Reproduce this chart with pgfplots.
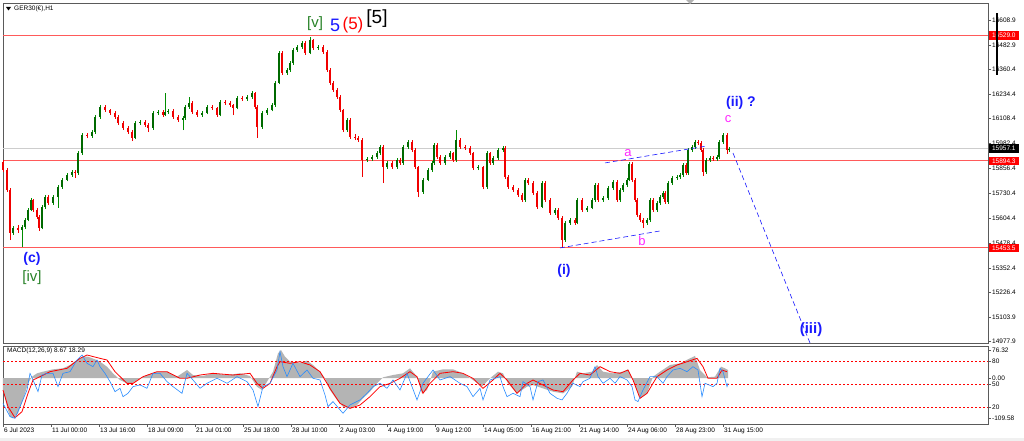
\documentclass[border=0pt]{standalone}
\usepackage{fontspec}
\setmainfont{Liberation Sans}
\usepackage{pgfplots}
\pgfplotsset{compat=1.18}
\usepackage{pgfplotstable}
\definecolor{upc}{RGB}{0,140,0}
\definecolor{dnc}{RGB}{240,0,0}
\definecolor{hline}{RGB}{255,90,90}
\definecolor{frm}{RGB}{90,90,90}
\definecolor{wblue}{RGB}{25,25,255}
\definecolor{wgreen}{RGB}{40,130,40}
\definecolor{wmag}{RGB}{255,40,255}
\definecolor{mblue}{RGB}{40,140,255}
\definecolor{hgray}{RGB}{180,180,180}
\definecolor{bidgray}{RGB}{205,205,205}
\newcommand\tf{\fontsize{6.5}{7.5}\selectfont}

\pgfplotstableread{
x o h l c
3 15890 15900 15838 15848
7 15848 15856 15739 15747
10 15747 15755 15493 15529
13 15529 15565 15520 15554
18 15554 15570 15530 15544
22 15544 15570 15458 15559
25 15559 15605 15550 15595
28 15595 15655 15588 15645
31 15645 15706 15638 15696
33 15696 15703 15637 15645
37 15645 15653 15600 15610
39 15610 15618 15540 15554
42 15554 15670 15547 15661
45 15661 15722 15652 15711
48 15711 15720 15672 15681
53 15681 15720 15672 15711
58 15711 15772 15656 15762
62 15762 15808 15754 15798
67 15798 15832 15790 15823
72 15823 15848 15815 15838
75 15838 15846 15808 15833
78 15833 15944 15825 15934
82 15934 16036 15926 16026
87 16026 16034 16010 16021
92 16021 16050 16012 16041
95 16041 16127 16033 16117
100 16117 16178 16108 16168
105 16168 16176 16144 16152
110 16152 16160 16128 16137
115 16137 16145 16108 16117
118 16117 16125 16078 16087
123 16087 16095 16052 16061
128 16061 16070 16032 16041
132 16041 16050 15995 16011
135 16011 16096 16003 16087
140 16087 16101 16078 16092
145 16092 16100 16068 16077
148 16077 16085 16040 16061
153 16061 16146 16053 16137
158 16137 16151 16128 16142
163 16142 16150 16118 16127
165 16127 16239 16120 16142
168 16142 16155 16134 16147
173 16147 16155 16108 16117
178 16117 16125 16092 16102
183 16102 16120 16051 16112
185 16112 16176 16104 16168
189 16168 16219 16160 16188
192 16188 16196 16133 16142
197 16142 16150 16118 16127
202 16127 16146 16118 16137
207 16137 16177 16130 16168
212 16168 16176 16154 16163
217 16163 16170 16118 16127
220 16127 16202 16120 16193
225 16193 16202 16180 16188
230 16188 16196 16170 16178
233 16178 16185 16127 16163
237 16163 16222 16155 16213
242 16213 16222 16200 16208
247 16208 16228 16200 16219
252 16219 16248 16210 16239
255 16239 16246 16160 16168
257 16168 16176 16011 16066
262 16066 16146 16058 16137
267 16137 16161 16128 16152
272 16152 16187 16145 16178
275 16178 16300 16170 16290
279 16290 16452 16282 16442
282 16442 16450 16330 16340
287 16340 16365 16330 16355
290 16355 16400 16346 16391
293 16391 16466 16383 16457
297 16457 16482 16448 16472
302 16472 16502 16464 16492
305 16492 16500 16432 16442
310 16442 16523 16434 16507
313 16507 16515 16458 16467
318 16467 16480 16458 16472
323 16472 16480 16438 16447
327 16447 16455 16346 16355
330 16355 16364 16280 16290
333 16290 16298 16244 16254
337 16254 16262 16210 16219
340 16219 16228 16142 16152
343 16152 16160 16040 16051
347 16051 16112 16043 16102
350 16102 16110 16006 16016
355 16016 16030 16000 16011
358 16011 16020 15990 16001
362 16001 16009 15813 15899
367 15899 15912 15890 15904
372 15904 15923 15895 15914
377 15914 15943 15905 15934
380 15934 15975 15926 15965
383 15965 15973 15782 15863
387 15863 15893 15855 15884
392 15884 15892 15854 15863
397 15863 15908 15855 15899
400 15899 15907 15875 15884
403 15884 15974 15876 15965
408 15965 16000 15956 15990
412 15990 15998 15940 15950
415 15950 15958 15854 15863
418 15863 15871 15711 15737
423 15737 15807 15729 15798
428 15798 15857 15790 15848
432 15848 15893 15840 15884
434 15884 15985 15876 15975
437 15975 15983 15905 15914
440 15914 15922 15875 15884
445 15884 15923 15876 15914
450 15914 15943 15905 15934
453 15934 15942 15890 15899
456 15899 16051 15891 16001
460 16001 16009 15956 15965
465 15965 15975 15950 15960
470 15960 15968 15925 15934
473 15934 15942 15849 15858
478 15858 15872 15848 15863
483 15863 15871 15750 15762
487 15762 15944 15754 15934
490 15934 15942 15875 15884
493 15884 15918 15876 15909
498 15909 15959 15900 15950
503 15950 15970 15942 15960
505 15960 15968 15804 15813
508 15813 15821 15753 15762
513 15762 15770 15738 15747
518 15747 15755 15713 15722
522 15722 15730 15687 15696
525 15696 15808 15688 15798
528 15798 15806 15773 15782
533 15782 15790 15723 15732
537 15732 15740 15652 15661
542 15661 15792 15653 15782
545 15782 15790 15687 15696
550 15696 15704 15621 15630
555 15630 15654 15621 15645
558 15645 15653 15596 15605
562 15605 15613 15458 15493
565 15493 15589 15485 15580
570 15580 15604 15571 15595
575 15595 15603 15571 15580
577 15580 15706 15572 15696
582 15696 15704 15636 15645
587 15645 15665 15636 15656
592 15656 15705 15648 15696
595 15696 15782 15688 15772
598 15772 15780 15687 15696
603 15696 15715 15687 15706
608 15706 15766 15698 15757
613 15757 15796 15749 15787
617 15787 15795 15687 15696
620 15696 15756 15688 15747
623 15747 15781 15739 15772
627 15772 15807 15764 15798
629 15798 15889 15790 15879
632 15879 15887 15789 15798
635 15798 15806 15687 15696
637 15696 15704 15611 15620
640 15620 15628 15586 15595
643 15595 15603 15554 15580
647 15580 15604 15571 15595
650 15595 15706 15587 15696
653 15696 15704 15636 15645
657 15645 15690 15637 15681
660 15681 15720 15673 15711
663 15711 15741 15703 15732
665 15732 15740 15677 15686
668 15686 15792 15678 15782
672 15782 15817 15774 15808
677 15808 15822 15799 15813
680 15813 15832 15805 15823
683 15823 15883 15815 15874
686 15874 15882 15824 15833
688 15833 15960 15825 15950
692 15950 15975 15942 15965
695 15965 16000 15957 15990
698 15990 15998 15976 15985
701 15985 15993 15941 15950
703 15950 15958 15818 15838
706 15838 15908 15830 15899
710 15899 15918 15890 15909
713 15909 15917 15895 15904
717 15904 15923 15895 15914
719 15914 16000 15906 15990
723 15990 16036 15982 16026
727 16026 16034 15930 15950
729 15950 15966 15941 15957
}\candles

\pgfplotstableread{
x m
3 -32.6
7 -78
10 -105.2
13 -109.6
18 -96.1
23 -59.8
28 -14.5
32 3.7
37 12.8
43 17.3
53 23.7
63 26.4
70 35.5
77 49.1
83 58.1
88 58.1
95 50.9
100 44.5
107 30.9
113 12.8
120 -5.4
127 -14.5
133 -12.6
140 -0.8
147 8.2
157 17.3
167 17.3
177 3.7
187 21.8
193 8.2
203 5.5
213 12.8
227 8.2
240 12.8
250 5.5
257 -23.5
262 -32.6
267 -9.9
273 17.3
278 67.2
281 76.3
285 58.1
290 44.5
300 41.8
307 47.2
313 35.5
320 17.3
325 -0.8
330 -32.6
337 -59.8
343 -78
350 -82.5
357 -73.4
363 -55.3
370 -37.1
377 -14.5
383 1.9
393 8.2
403 12.8
410 26.4
417 3.7
422 -41.7
427 -32.6
433 17.3
443 23.7
453 23.7
463 12.8
473 -5.4
482 -23.5
490 -0.8
498 17.3
503 12.8
508 -14.5
517 -41.7
527 -23.5
533 -19
543 -28.1
553 -37.1
563 -41.7
572 -23.5
577 17.3
583 12.8
592 17.3
597 35.5
603 17.3
613 12.8
623 17.3
628 23.7
633 -5.4
640 -55.3
647 -41.7
653 3.7
660 17.3
670 35.5
680 40
690 53.6
695 60
700 21.8
707 1.9
715 3.7
721 30.9
725 26.4
728 21.8
}\hist

\pgfplotstableread{
x m
3 -32.6
8 -78
15 -108
22 -91.6
28 -41.7
33 -5.4
40 3.7
50 17.3
67 26.4
80 53.6
87 62.7
100 53.6
107 49.1
115 17.3
127 -14.5
133 -14.5
143 3.7
157 17.3
167 17.3
180 -0.8
187 -0.8
200 8.2
213 12.8
233 8.2
250 12.8
257 -14.5
263 -28.1
270 -14.5
277 30.9
280 44.5
290 40
300 44.5
310 35.5
320 17.3
330 -28.1
340 -68.9
350 -82.5
360 -73.4
370 -50.7
380 -23.5
390 -14.5
400 -0.8
410 17.3
417 3.7
423 -41.7
430 -14.5
440 12.8
453 17.3
463 12.8
473 -0.8
483 -28.1
493 -5.4
500 12.8
507 -5.4
517 -41.7
527 -14.5
533 -5.4
543 -19
553 -32.6
563 -37.1
573 -5.4
580 12.8
590 8.2
600 30.9
610 17.3
620 12.8
628 21.8
633 -5.4
640 -55.3
647 -41.7
657 3.7
667 21.8
677 35.5
687 44.5
697 53.6
703 30.9
708 -0.8
717 -0.8
722 21.8
727 17.3
}\signal

\pgfplotstableread{
x v
3 25.3
10 7.7
15 5.5
20 20.9
27 42.8
30 64.7
33 56
38 40.6
42 62.5
47 64.7
53 64.7
58 47.2
63 64.7
70 66.9
77 82.3
82 88.9
87 77.9
93 73.5
97 82.3
100 73.5
105 64.7
110 53.8
115 40.6
120 45
123 34
128 38.4
133 47.2
140 49.4
147 45
153 64.7
160 64.7
167 53.8
173 47.2
182 38.4
187 64.7
193 56
200 45
207 51.6
217 58.2
227 51.6
237 60.4
247 53.8
253 42.8
258 20.9
263 47.2
270 51.6
277 69.1
280 93.2
283 73.5
287 60.4
293 77.9
300 60.4
307 69.1
313 58.2
320 56
325 36.2
328 20.9
333 27.5
343 12.1
350 23.1
360 29.7
367 38.4
373 47.2
380 51.6
387 45
393 56
400 42.8
407 64.7
417 29.7
423 51.6
433 69.1
440 56
450 60.4
460 51.6
467 47.2
473 34
480 45
483 29.7
490 56
500 60.4
503 47.2
507 34
513 38.4
520 34
523 53.8
530 47.2
533 29.7
538 53.8
543 56
550 38.4
557 31.9
562 29.7
567 38.4
573 51.6
580 47.2
583 53.8
590 58.2
595 73.5
598 60.4
603 51.6
610 58.2
615 51.6
620 60.4
627 56
632 47.2
635 29.7
638 27.5
643 42.8
650 60.4
657 60.4
663 51.6
667 60.4
673 69.1
680 71.3
687 66.9
693 73.5
698 69.1
702 34
705 51.6
713 47.2
717 51.6
720 71.3
723 66.9
727 47.2
728 51.6
}\osc

\begin{document}
\begin{tikzpicture}
\path[use as bounding box, fill=white] (0,0) rectangle (1024pt,441pt);
\fill[gray!12] (0,0) rectangle (1024pt,3pt);

% ---------- main price panel ----------
\begin{axis}[
  at={(3pt,98pt)}, anchor=south west, scale only axis,
  width=985pt, height=340pt,
  xmin=3, xmax=988, ymin=14970.9, ymax=16695.1,
  axis line style={frm, line width=0.8pt},
  xtick=\empty, ytick pos=right, yticklabel pos=right, tick align=outside,
  ytick={16608.9,16482.9,16360.4,16234.4,16108.4,15982.4,15856.4,15730.4,15604.4,15478.4,15352.4,15226.4,15103.9,14977.9},
  yticklabels={16608.9,16482.9,16360.4,16234.4,16108.4,15982.4,15856.4,15730.4,15604.4,15478.4,15352.4,15226.4,15103.9,14977.9},
  major tick length=3pt, tick style={frm, line width=0.5pt},
  yticklabel style={font=\tf, anchor=west, inner sep=1pt},
  clip=false]
\addplot[bidgray, line width=0.8pt, forget plot] coordinates {(3,15957.1) (988,15957.1)};
\addplot[hline, line width=0.9pt, forget plot] coordinates {(3,16529) (988,16529)};
\addplot[hline, line width=0.9pt, forget plot] coordinates {(3,15894.3) (988,15894.3)};
\addplot[hline, line width=0.9pt, forget plot] coordinates {(3,15453.5) (988,15453.5)};
% candles: wicks (low to high)
\addplot[upc, line width=0.6pt, mark=none, forget plot,
  restrict expr to domain={\thisrow{c}-\thisrow{o}}{0:9999},
  quiver={u=0, v=\thisrow{h}-\thisrow{l}}]
  table[x=x, y=l] {\candles};
\addplot[dnc, line width=0.6pt, mark=none, forget plot,
  restrict expr to domain={\thisrow{c}-\thisrow{o}}{-9999:0},
  quiver={u=0, v=\thisrow{h}-\thisrow{l}}]
  table[x=x, y=l] {\candles};
% candles: bodies (open to close)
\addplot[upc!75!black, line width=1.5pt, mark=none, forget plot,
  restrict expr to domain={\thisrow{c}-\thisrow{o}}{0:9999},
  quiver={u=0, v=\thisrow{c}-\thisrow{o}}]
  table[x=x, y=o] {\candles};
\addplot[dnc, line width=1.5pt, mark=none, forget plot,
  restrict expr to domain={\thisrow{c}-\thisrow{o}}{-9999:0},
  quiver={u=0, v=\thisrow{c}-\thisrow{o}}]
  table[x=x, y=o] {\candles};
% wave channel lines
\addplot[wblue, line width=0.6pt, dash pattern=on 5pt off 3pt, forget plot] coordinates {(605,15884) (707,15970)};
\addplot[wblue, line width=0.6pt, dash pattern=on 5pt off 3pt, forget plot] coordinates {(560,15453) (660,15539)};
\addplot[wblue, line width=0.6pt, dash pattern=on 5pt off 3pt, forget plot] coordinates {(733,15934) (810,14971)};
% labels
\node[text=wblue, font=\fontsize{14}{16}\selectfont\bfseries] at (axis cs:32,15397) {(c)};
\node[text=wgreen, font=\fontsize{15}{17}\selectfont] at (axis cs:32,15301) {[iv]};
\node[text=wgreen, font=\fontsize{15}{17}\selectfont] at (axis cs:315,16589) {[v]};
\node[text=wblue, font=\fontsize{18}{20}\selectfont] at (axis cs:335,16579) {5};
\node[text=red, font=\fontsize{17}{19}\selectfont] at (axis cs:353,16584) {(5)};
\node[text=black, font=\fontsize{19}{21}\selectfont] at (axis cs:377,16614) {[5]};
\node[text=wblue, font=\fontsize{14}{16}\selectfont\bfseries] at (axis cs:564,15336) {(i)};
\node[text=wmag, font=\fontsize{13}{15}\selectfont] at (axis cs:628,15934) {a};
\node[text=wmag, font=\fontsize{13}{15}\selectfont] at (axis cs:642,15488) {b};
\node[text=wmag, font=\fontsize{13}{15}\selectfont] at (axis cs:728,16107) {c};
\node[text=wblue, font=\fontsize{14}{16}\selectfont\bfseries] at (axis cs:741,16188) {(ii) ?};
\node[text=wblue, font=\fontsize{15}{17}\selectfont\bfseries] at (axis cs:811,15037) {(iii)};
\coordinate (pA) at (axis cs:988,16529);
\coordinate (pB) at (axis cs:988,15957.1);
\coordinate (pC) at (axis cs:988,15894.3);
\coordinate (pD) at (axis cs:988,15453.5);
\end{axis}

\node[fill=red, text=white, font=\tf, inner sep=1pt, minimum width=30pt, minimum height=8.5pt, anchor=west] at ([xshift=0.6pt]pA) {16529.0};
\node[fill=black, text=white, font=\tf, inner sep=1pt, minimum width=30pt, minimum height=8.5pt, anchor=west] at ([xshift=0.6pt]pB) {15957.1};
\node[fill=red, text=white, font=\tf, inner sep=1pt, minimum width=30pt, minimum height=8.5pt, anchor=west] at ([xshift=0.6pt]pC) {15894.3};
\node[fill=red, text=white, font=\tf, inner sep=1pt, minimum width=30pt, minimum height=8.5pt, anchor=west] at ([xshift=0.6pt]pD) {15453.5};
\fill[black] (996pt,366pt) rectangle (998pt,428pt);
\fill[gray!60] (686pt,441pt) -- (694pt,441pt) -- (690pt,437pt) -- cycle;
\fill[black] (6pt,434pt) -- (11pt,434pt) -- (8.5pt,430.5pt) -- cycle;
\node[anchor=west, font=\tf, inner sep=0pt] at (14pt,432pt) {GER30(€),H1};

% ---------- MACD panel ----------
\begin{axis}[
  at={(3pt,17pt)}, anchor=south west, scale only axis,
  width=985pt, height=78pt,
  xmin=3, xmax=988, ymin=-125.1, ymax=87.2,
  axis line style={frm, line width=0.8pt},
  xtick={3,51,99,147,195,243,291,339,387,435,483,531,579,627,675,723},
  xticklabels={6 Jul 2023,11 Jul 00:00,13 Jul 16:00,18 Jul 09:00,21 Jul 01:00,25 Jul 18:00,28 Jul 10:00,2 Aug 03:00,4 Aug 19:00,9 Aug 12:00,14 Aug 05:00,16 Aug 21:00,21 Aug 14:00,24 Aug 06:00,28 Aug 23:00,31 Aug 15:00},
  xtick pos=bottom, ytick pos=right, yticklabel pos=right, tick align=outside,
  ytick={76.32,0,-109.58}, yticklabels={76.32,0.00,-109.58},
  major tick length=3pt, tick style={frm, line width=0.5pt},
  yticklabel style={font=\tf, anchor=west, inner sep=1pt},
  xticklabel style={font=\tf, anchor=north west, inner sep=1pt},
  clip=false]
\addplot[fill=hgray, draw=none, forget plot] table[x=x, y=m] {\hist} -- (axis cs:728,0) -- (axis cs:3,0) -- cycle;
\addplot[red, line width=0.8pt, forget plot] table[x=x, y=m] {\signal};
\node[anchor=west, font=\tf, inner sep=0pt] at (axis cs:7,74) {MACD(12,26,9) 8.67 18.29};
\end{axis}
\begin{axis}[
  at={(3pt,17pt)}, anchor=south west, scale only axis,
  width=985pt, height=78pt,
  xmin=3, xmax=988, ymin=-2, ymax=100.7,
  hide x axis, axis y line*=right,
  y axis line style={frm, line width=0.8pt},
  ytick={80,50,20}, yticklabels={80,50,20},
  tick align=outside, major tick length=3pt, tick style={frm, line width=0.5pt},
  yticklabel style={font=\tf, anchor=west, inner sep=1pt},
  clip=false]
\addplot[red, line width=0.6pt, dash pattern=on 2pt off 2pt, forget plot] coordinates {(3,80) (988,80)};
\addplot[red, line width=0.6pt, dash pattern=on 2pt off 2pt, forget plot] coordinates {(3,50) (988,50)};
\addplot[red, line width=0.6pt, dash pattern=on 2pt off 2pt, forget plot] coordinates {(3,20) (988,20)};
\addplot[mblue, line width=0.6pt, forget plot] table[x=x, y=v] {\osc};
\end{axis}
\end{tikzpicture}
\end{document}
